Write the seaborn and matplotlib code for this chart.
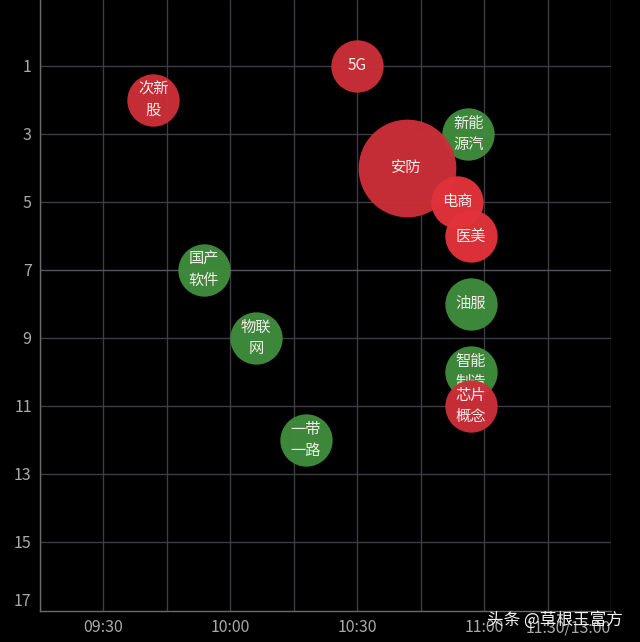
import matplotlib
matplotlib.use("Agg")
import matplotlib.pyplot as plt
import seaborn as sns
import pandas as pd

# ---- data ----
names = ["次新\n股", "5G", "安防", "新能\n源汽", "电商", "医美", "国产\n软件", "油服",
         "物联\n网", "智能\n制造", "芯片\n概念", "一带\n一路"]
minutes = [11.8, 60, 71.7, 86.3, 83.7, 86.8, 23.8, 86.8, 36.1, 86.8, 86.8, 47.9]  # minutes after 09:30
ranks = [2, 1, 4, 3, 5, 6, 7, 8, 9, 10, 11, 12]
strength = [1, 1, 4, 1, 1, 1, 1, 1, 1, 1, 1, 1]
trend = ["涨", "涨", "涨", "跌", "强", "强", "跌", "跌", "跌", "跌", "涨", "跌"]
xtick_pos = [0, 30, 60, 90, 120]
xtick_labels = ["09:30", "10:00", "10:30", "11:00", "11:30/13:00"]
ytick_labels = ["1", "3", "5", "7", "9", "11", "13", "15", "17"]

df = pd.DataFrame({"name": names, "x": minutes, "y": ranks, "s": strength, "trend": trend})
df = df.sort_values("y").reset_index(drop=True)

sns.set_theme(style="dark")
plt.rcParams["font.family"] = ["Noto Sans CJK SC", "DejaVu Sans"]

fig = plt.figure(figsize=(6.4, 6.42), dpi=100, facecolor="black")
ax = fig.add_axes([40 / 640, 31 / 642, 571 / 640, 611 / 642])
ax.set_facecolor("black")

palette = {"涨": "#cc2f37", "强": "#e2323a", "跌": "#3f8c3d"}
size_map = {1: 1420, 4: 4950}
for i in range(len(df)):
    row = df.iloc[[i]]
    sns.scatterplot(data=row, x="x", y="y", size="s", sizes=size_map, hue="trend",
                    palette=palette, alpha=0.97, linewidth=0, legend=False, ax=ax,
                    zorder=3 + 2 * i)
    ax.text(row["x"].iloc[0], row["y"].iloc[0], row["name"].iloc[0], ha="center",
            va="center", color="#f4ecec", fontsize=11, linespacing=1.33, zorder=4 + 2 * i)

ax.set_xlim(-15, 120)
ax.set_ylim(17.03, -0.94)

# grid
for gx in range(-15, 121, 15):
    ax.axvline(gx, color="#3d3d4a", lw=1, zorder=1)
for gy in [1, 3, 5, 7, 9, 11, 13, 15]:
    ax.axhline(gy, color="#3d3d4a" if gy != 7 else "#55556a", lw=1, zorder=1)

ax.set_xticks(xtick_pos)
ax.set_xticklabels(xtick_labels)
ax.set_yticks([1, 3, 5, 7, 9, 11, 13, 15, 16.7])
ax.set_yticklabels(ytick_labels)
ax.tick_params(colors="#aaaaaa", labelsize=11.5, length=0, pad=6)
ax.get_xticklabels()[-1].set_horizontalalignment("right")
ax.set_xlabel("")
ax.set_ylabel("")
ax.grid(False)
for side in ["top", "right"]:
    ax.spines[side].set_visible(False)
for side in ["left", "bottom"]:
    ax.spines[side].set_visible(True)
    ax.spines[side].set_color("#6a6a6a")
    ax.spines[side].set_linewidth(1)

fig.text(0.761, 0.034, "头条 @草根王富方", color="#f2f2f2", fontsize=12,
         ha="left", va="center")

fig.savefig("out.png", dpi=100, facecolor="black")
